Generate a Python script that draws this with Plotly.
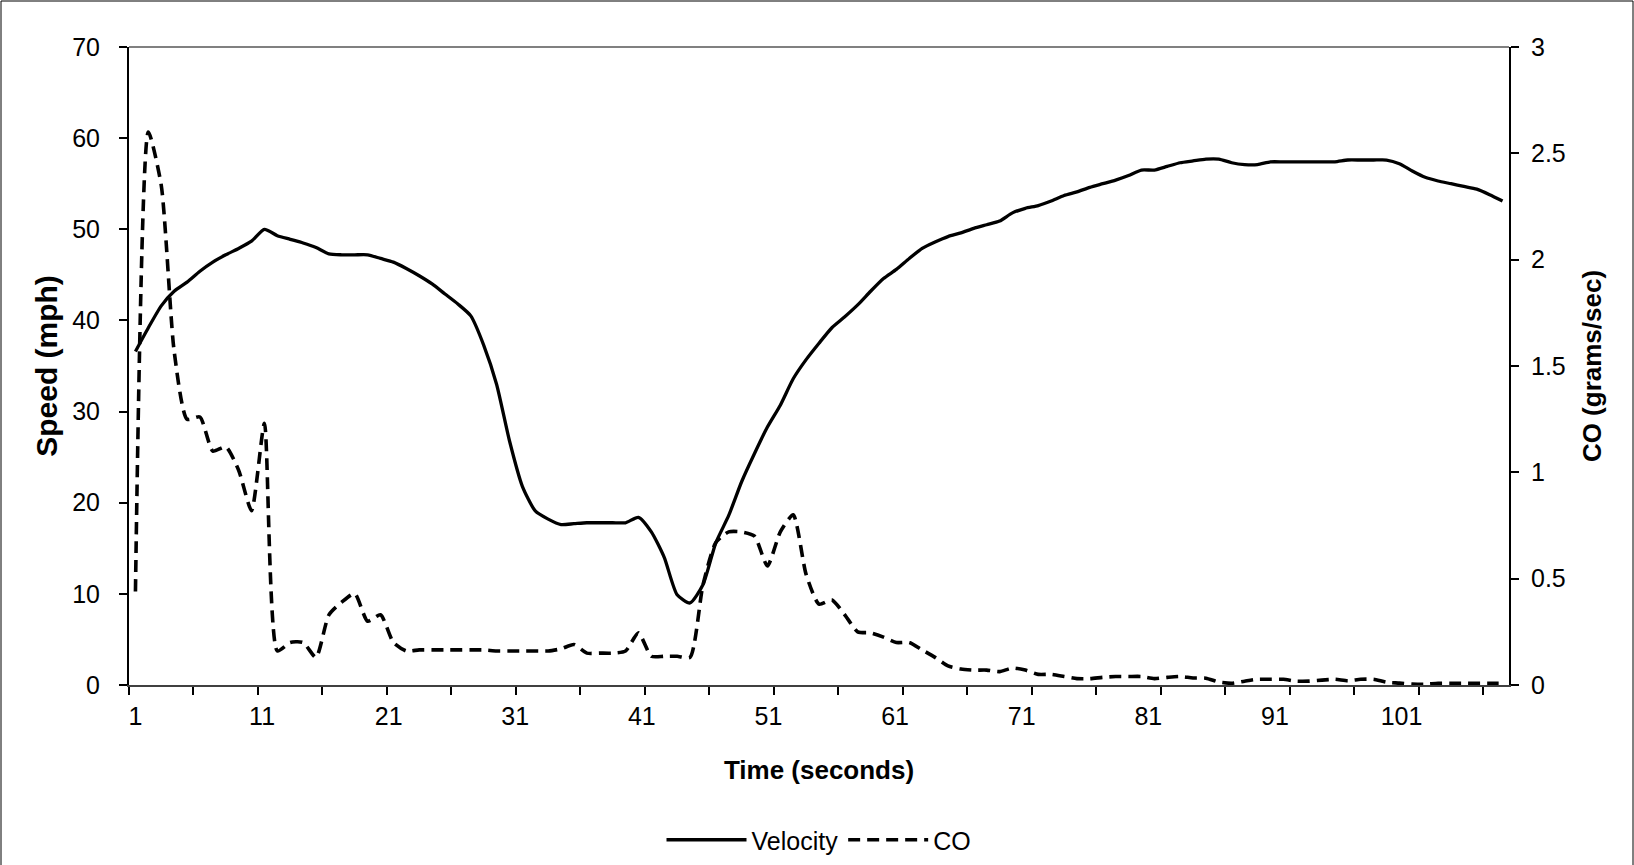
import plotly.graph_objects as go

# time in seconds (one category per second)
seconds = list(range(1, 108))

# vehicle speed, mph
velocity = [
    36.6, 39.2, 41.6, 43.2, 44.2, 45.4, 46.4, 47.2, 47.9, 48.7,
    50.0, 49.3, 48.9, 48.5, 48.0, 47.3, 47.2, 47.2, 47.2, 46.8,
    46.4, 45.7, 44.9, 44.0, 42.9, 41.8, 40.5, 37.3, 33.0, 26.8,
    21.8, 19.1, 18.2, 17.6, 17.7, 17.8, 17.8, 17.8, 17.8, 18.4,
    16.8, 14.0, 9.9, 9.0, 11.0, 15.6, 18.6, 22.3, 25.4, 28.3,
    30.7, 33.6, 35.7, 37.5, 39.2, 40.4, 41.7, 43.2, 44.6, 45.6,
    46.8, 47.9, 48.6, 49.2, 49.6, 50.1, 50.5, 50.9, 51.8, 52.3,
    52.6, 53.1, 53.7, 54.1, 54.6, 55.0, 55.4, 55.9, 56.5, 56.5,
    56.9, 57.3, 57.5, 57.7, 57.7, 57.3, 57.1, 57.1, 57.4, 57.4,
    57.4, 57.4, 57.4, 57.4, 57.6, 57.6, 57.6, 57.6, 57.2, 56.4,
    55.7, 55.3, 55.0, 54.7, 54.4, 53.8, 53.1,
]

# CO emission rate, grams/sec
co = [
    0.44, 2.60, 2.35, 1.57, 1.25, 1.26, 1.10, 1.12, 1.01, 0.82,
    1.23, 0.16, 0.20, 0.20, 0.13, 0.33, 0.39, 0.43, 0.30, 0.33,
    0.20, 0.16, 0.165, 0.165, 0.165, 0.165, 0.165, 0.165, 0.16, 0.16,
    0.16, 0.16, 0.16, 0.17, 0.19, 0.15, 0.15, 0.15, 0.16, 0.245,
    0.135, 0.135, 0.135, 0.13, 0.47, 0.67, 0.72, 0.72, 0.70, 0.56,
    0.72, 0.80, 0.52, 0.38, 0.40, 0.33, 0.25, 0.245, 0.225, 0.20,
    0.20, 0.165, 0.13, 0.09, 0.075, 0.07, 0.07, 0.063, 0.08, 0.07,
    0.05, 0.05, 0.04, 0.03, 0.03, 0.036, 0.04, 0.04, 0.04, 0.03,
    0.036, 0.04, 0.033, 0.032, 0.014, 0.008, 0.018, 0.027, 0.027, 0.027,
    0.018, 0.018, 0.023, 0.027, 0.02, 0.027, 0.027, 0.013, 0.009, 0.004,
    0.004, 0.008, 0.008, 0.008, 0.008, 0.008, 0.008,
]

time_labels = list(range(1, 102, 10))
time_ticks = [k + 0.5 for k in range(0, 106, 5)]
speed_ticks = list(range(0, 71, 10))
co_ticks = [0, 0.5, 1, 1.5, 2, 2.5, 3]

# the original chart spreads its labels slightly tighter than the categories
label_pos = [1 + (v - 1) * 107 / 109 for v in time_labels]

FONT = "Arial, Liberation Sans, sans-serif"
W, H = 1634, 865
ML, MR, MT, MB = 129, 125, 47, 180

fig = go.Figure()

fig.add_trace(go.Scatter(
    x=seconds, y=velocity, name="Velocity", mode="lines",
    line=dict(color="black", width=3.3, shape="spline", smoothing=0.6),
))
fig.add_trace(go.Scatter(
    x=seconds, y=co, name="CO", mode="lines", yaxis="y2",
    line=dict(color="black", width=3.6, dash="12px,7px", shape="spline", smoothing=0.6),
))

pw = W - ML - MR
ph = H - MT - MB

fig.update_layout(
    width=W, height=H,
    margin=dict(l=ML, r=MR, t=MT, b=MB, autoexpand=False),
    paper_bgcolor="white", plot_bgcolor="white",
    font=dict(family=FONT, size=25, color="black"),
    showlegend=True,
    legend=dict(
        orientation="h", x=0.5, xanchor="center",
        yref="container", y=1 - 840 / H, yanchor="middle",
        font=dict(size=25), itemwidth=80, tracegroupgap=0,
    ),
    xaxis=dict(
        range=[0.5, 107.5], automargin=False,
        tickmode="array", tickvals=label_pos, ticktext=[str(v) for v in time_labels],
        ticks="outside", ticklen=8, tickcolor="rgba(0,0,0,0)",
        minor=dict(tickmode="array", tickvals=time_ticks, ticks="outside",
                   ticklen=8, tickwidth=1.5, tickcolor="black", showgrid=False),
        showline=True, linecolor="#404040", linewidth=2,
        showgrid=False, zeroline=False,
        title=dict(text="<b>Time (seconds)</b>", standoff=32, font=dict(size=26)),
    ),
    yaxis=dict(
        range=[0, 70], tickvals=speed_ticks, automargin=False,
        ticks="outside", ticklen=8, tickwidth=1.5, tickcolor="black",
        ticklabelstandoff=14,
        showline=True, linecolor="black", linewidth=2,
        showgrid=False, zeroline=False,
        title=dict(text="<b>Speed (mph)</b>", standoff=6),
    ),
    yaxis2=dict(
        range=[0, 3], tickvals=co_ticks, overlaying="y", side="right", automargin=False,
        ticks="outside", ticklen=8, tickwidth=1.5, tickcolor="black",
        ticklabelstandoff=7,
        showline=True, linecolor="black", linewidth=2,
        showgrid=False, zeroline=False,
        title=dict(text="<b>CO (grams/sec)</b>", standoff=18, font=dict(size=26)),
    ),
    shapes=[
        # plot area top border
        dict(type="line", xref="paper", yref="paper", x0=0, x1=1, y0=1, y1=1,
             line=dict(color="#808080", width=2)),
        # chart area border (bottom edge falls just off the page)
        dict(type="rect", xref="paper", yref="paper",
             x0=-(ML - 1) / pw, x1=1 + (MR - 1) / pw,
             y0=-(MB + 4) / ph, y1=1 + (MT - 1) / ph,
             line=dict(color="black", width=1)),
    ],
)

fig.write_html(
    "out.html",
    config={"displayModeBar": False},
    post_script="document.body.style.margin='0';document.body.style.overflow='hidden';",
)
